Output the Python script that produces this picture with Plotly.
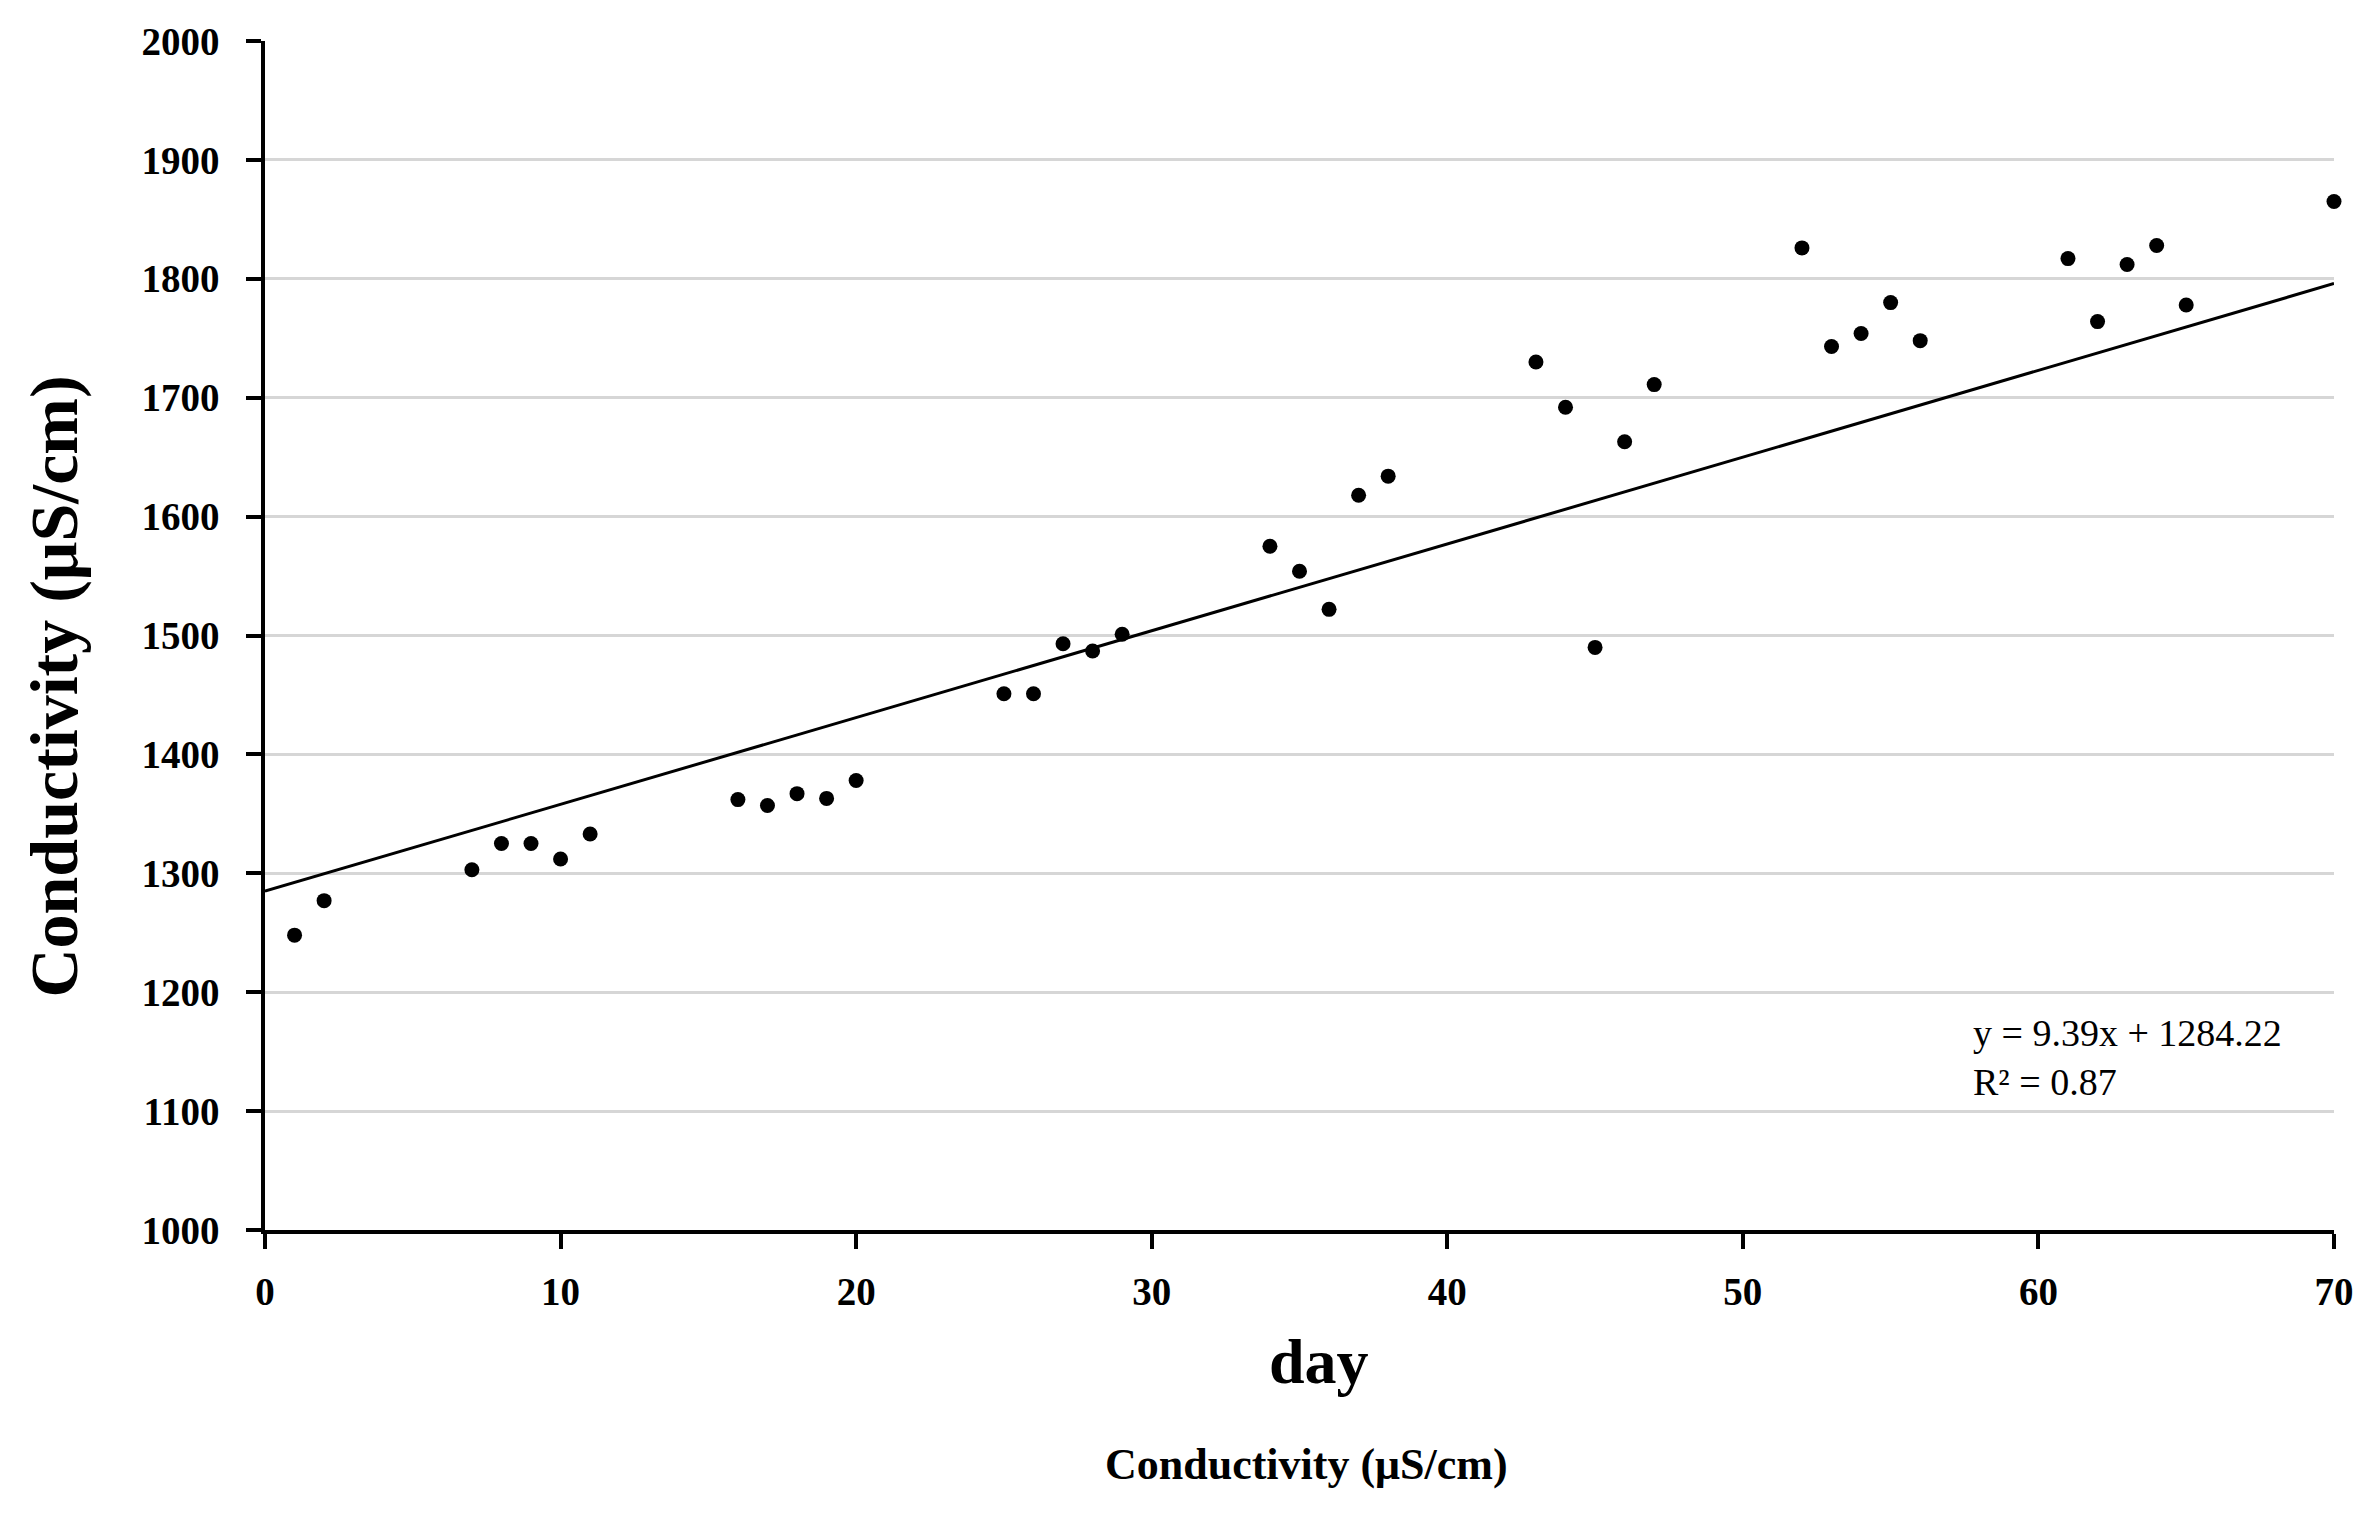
import plotly.graph_objects as go

# Data
days = [1, 2, 7, 8, 9, 10, 11, 16, 17, 18, 19, 20, 25, 26, 27, 28, 29,
        34, 35, 36, 37, 38, 43, 44, 45, 46, 47, 52, 53, 54, 55, 56,
        61, 62, 63, 64, 65, 70]
conductivity = [1248, 1277, 1303, 1325, 1325, 1312, 1333, 1362, 1357, 1367, 1363, 1378,
                1451, 1451, 1493, 1487, 1501,
                1575, 1554, 1522, 1618, 1634, 1730, 1692, 1490, 1663, 1711,
                1826, 1743, 1754, 1780, 1748,
                1817, 1764, 1812, 1828, 1778, 1865]

# Trend line as drawn in the reference
trend_x = [0, 70]
trend_y = [1285, 1796]

x_ticks = [0, 10, 20, 30, 40, 50, 60, 70]
y_ticks = [1000, 1100, 1200, 1300, 1400, 1500, 1600, 1700, 1800, 1900, 2000]

equation_text = "y = 9.39x + 1284.22<br>R² = 0.87"
x_title = "day"
y_title = "Conductivity (μS/cm)"
bottom_label = "Conductivity (μS/cm)"

FONT = "Liberation Serif"

fig = go.Figure()
fig.add_trace(go.Scatter(
    x=trend_x, y=trend_y, mode="lines",
    line=dict(color="black", width=3),
    showlegend=False, hoverinfo="skip"))
fig.add_trace(go.Scatter(
    x=days, y=conductivity, mode="markers",
    marker=dict(color="black", size=15),
    cliponaxis=False, showlegend=False))

fig.update_layout(
    width=2363, height=1508,
    margin=dict(l=257, r=37, t=31, b=286),
    paper_bgcolor="white", plot_bgcolor="white",
    font=dict(family=FONT, color="black"),
    xaxis=dict(range=[0, 70], tickvals=x_ticks, showgrid=False, zeroline=False,
               showline=True, linecolor="black", linewidth=3.5,
               ticks="outside", ticklen=15, tickwidth=3.5, tickcolor="black",
               tickfont=dict(family=FONT, size=39, weight="bold"),
               ticklabelstandoff=9),
    yaxis=dict(range=[1000, 2000], tickvals=y_ticks, showgrid=True,
               gridcolor="#d6d6d6", gridwidth=2.5, zeroline=False,
               showline=True, linecolor="black", linewidth=3.5,
               ticks="outside", ticklen=15, tickwidth=3.5, tickcolor="black",
               tickfont=dict(family=FONT, size=39, weight="bold"),
               ticklabelstandoff=19),
)

fig.add_annotation(text=equation_text, xref="paper", yref="paper",
                   x=0.8245, y=0.1455, xanchor="left", yanchor="middle",
                   align="left", showarrow=False,
                   font=dict(family=FONT, size=38, color="black"))
fig.add_annotation(text="<b>" + x_title + "</b>", xref="paper", yref="paper",
                   x=0.5095, y=-0.111, xanchor="center", yanchor="middle",
                   showarrow=False, font=dict(family=FONT, size=64, color="black"))
fig.add_annotation(text="<b>" + bottom_label + "</b>", xref="paper", yref="paper",
                   x=0.5034, y=-0.197, xanchor="center", yanchor="middle",
                   showarrow=False, font=dict(family=FONT, size=44, color="black"))
fig.add_annotation(text="<b>" + y_title + "</b>", xref="paper", yref="paper",
                   x=-0.102, y=0.457, xanchor="center", yanchor="middle",
                   textangle=-90, showarrow=False,
                   font=dict(family=FONT, size=68, color="black"))

fig.write_html("out.html")
